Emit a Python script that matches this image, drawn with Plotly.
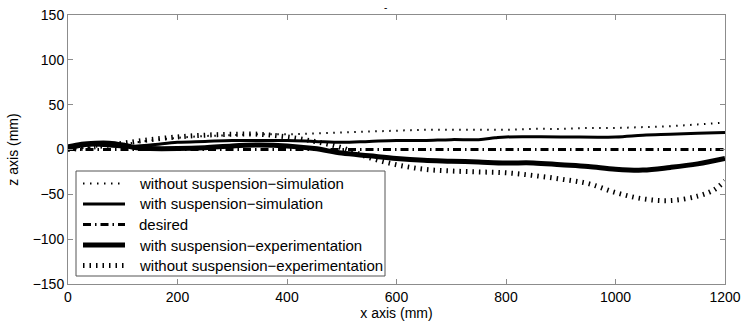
import plotly.graph_objects as go

# ---- data ----
x_wo_sim = [0, 50, 100, 150, 200, 250, 300, 350, 400, 450, 500, 550, 600, 650, 700, 750, 800, 850, 900, 950, 1000, 1050, 1100, 1150, 1200]
z_wo_sim = [0, 3, 6, 10, 13, 15, 16, 17, 17, 18, 19, 20, 21, 22, 22, 22, 22, 23, 23, 24, 24, 25, 26, 28, 30]

x_w_sim = [0, 25, 50, 100, 150, 200, 250, 300, 350, 400, 450, 500, 550, 600, 650, 700, 750, 780, 800, 900, 1000, 1050, 1100, 1150, 1200]
z_w_sim = [0, 4, 5, 3, 5, 8, 9, 10, 10, 10, 9, 8, 9, 10, 10, 11, 11, 13, 14, 14, 14, 16, 17, 18, 19]

x_desired = [0, 1200]
z_desired = [0, 0]

x_w_exp = [0, 25, 50, 75, 100, 125, 150, 200, 250, 300, 350, 400, 450, 500, 550, 600, 650, 700, 750, 800, 850, 900, 950, 1000, 1050, 1100, 1150, 1200]
z_w_exp = [3, 6, 7, 7, 5, 2, 1, 1, 2, 4, 5, 4, 1, -4, -7, -10, -12, -13, -14, -15, -15, -17, -19, -22, -23, -20, -16, -10]

x_wo_exp = [0, 50, 100, 150, 200, 250, 300, 350, 400, 450, 500, 550, 600, 650, 700, 750, 800, 850, 900, 950, 1000, 1050, 1100, 1150, 1180, 1200]
z_wo_exp = [0, 3, 7, 11, 14, 16, 17, 17, 14, 9, 2, -9, -17, -22, -24, -25, -26, -29, -33, -38, -48, -55, -57, -52, -45, -35]

names = ["without suspension\u2212simulation", "with suspension\u2212simulation", "desired",
         "with suspension\u2212experimentation", "without suspension\u2212experimentation"]

x_ticks = [0, 200, 400, 600, 800, 1000, 1200]
y_ticks = [-150, -100, -50, 0, 50, 100, 150]
y_tick_text = ["\u2212150", "\u2212100", "\u221250", "0", "50", "100", "150"]

FONT = "Liberation Sans, Arial, sans-serif"

styles = [
    dict(color="black", width=2, dash="1.5px,5.5px"),
    dict(color="black", width=3),
    dict(color="black", width=3, dash="8px,4px,1.5px,4px"),
    dict(color="black", width=5),
    dict(color="black", width=5, dash="1.5px,5px"),
]
data = [(x_wo_sim, z_wo_sim), (x_w_sim, z_w_sim), (x_desired, z_desired),
        (x_w_exp, z_w_exp), (x_wo_exp, z_wo_exp)]

fig = go.Figure()
for i, (xs, zs) in enumerate(data):
    fig.add_trace(go.Scatter(x=xs, y=zs, mode="lines", line=styles[i], name=names[i],
                             line_shape="spline", showlegend=False))

# ---- hand-built legend box (paper coordinates of the plot area) ----
W, H, L, T = 745, 327, 68, 15
PW, PH = 745 - L - 20, 327 - T - 43
def px(xp):
    return (xp - L) / PW
def py(yp):
    return (T + PH - yp) / PH

shapes = [dict(type="rect", xref="paper", yref="paper",
               x0=px(76), x1=px(385), y0=py(171), y1=py(276),
               line=dict(color="#555555", width=1), fillcolor="white", layer="above")]
annotations = []
row_y = [183.5, 204, 224.5, 245, 265.5]
for i, name in enumerate(names):
    shapes.append(dict(type="line", xref="paper", yref="paper",
                       x0=px(83), x1=px(125), y0=py(row_y[i]), y1=py(row_y[i]),
                       line=styles[i], layer="above"))
    annotations.append(dict(text=name, xref="paper", yref="paper", x=px(137), y=py(row_y[i]),
                            xanchor="left", yanchor="middle", showarrow=False,
                            font=dict(family=FONT, size=15, color="black")))
annotations.append(dict(text="-", xref="paper", yref="paper", x=0.483, y=1.0,
                        yanchor="bottom", showarrow=False, font=dict(family=FONT, size=10)))

axis_common = dict(showline=True, linecolor="#8c8c8c", linewidth=1, mirror="ticks",
                   ticks="inside", ticklen=5, tickcolor="#8c8c8c", showgrid=False,
                   zeroline=False, automargin=False,
                   tickfont=dict(family=FONT, size=14, color="black"))

fig.update_layout(
    width=W, height=H,
    margin=dict(l=L, r=20, t=T, b=43),
    paper_bgcolor="white", plot_bgcolor="white",
    font=dict(family=FONT, size=13, color="black"),
    showlegend=False,
    xaxis=dict(range=[0, 1200], tickvals=x_ticks, **axis_common,
               title=dict(text="x axis (mm)", font=dict(family=FONT, size=14), standoff=1)),
    yaxis=dict(range=[-150, 150], tickvals=y_ticks, ticktext=y_tick_text, **axis_common,
               title=dict(text="z axis (mm)", font=dict(family=FONT, size=14), standoff=10)),
    shapes=shapes,
    annotations=annotations,
)

fig.write_html("out.html")
